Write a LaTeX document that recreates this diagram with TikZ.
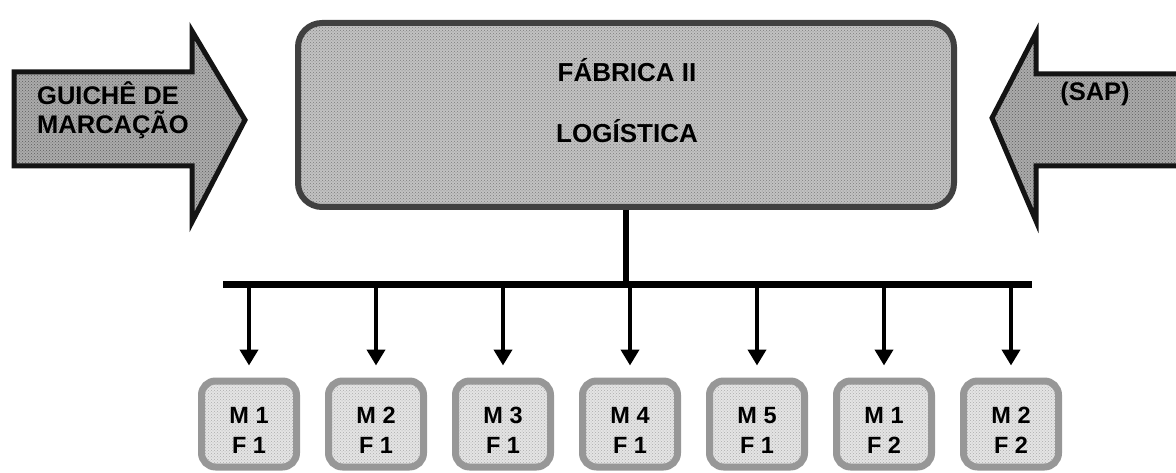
\documentclass[tikz,border=0pt]{standalone}
\usepackage{fontspec}
\setmainfont{Liberation Sans}
\usetikzlibrary{arrows.meta,patterns}

\definecolor{mainfill}{HTML}{C2C2C2}
\definecolor{maindot}{HTML}{7C7C7C}
\definecolor{arrowfill}{HTML}{ABABAB}
\definecolor{arrowdot}{HTML}{5E5E5E}
\definecolor{cellfill}{HTML}{E4E4E4}
\definecolor{celldot}{HTML}{ACACAC}
\definecolor{cellline}{HTML}{979797}

\begin{document}
\begin{tikzpicture}[x=1pt, y=-1pt, every node/.style={font=\bfseries},
    bigarrow/.style={draw=black!92, line width=5pt, preaction={fill=arrowfill},
        pattern=crosshatch dots, pattern color=arrowdot, line join=miter},
    mainbox/.style={draw=black!75, line width=6pt, preaction={fill=mainfill},
        pattern=crosshatch dots, pattern color=maindot, rounded corners=24pt,
        minimum width=656pt, minimum height=184pt},
    cellbox/.style={draw=cellline, line width=7pt, preaction={fill=cellfill},
        pattern=crosshatch dots, pattern color=celldot, rounded corners=14pt,
        minimum width=95pt, minimum height=86pt, align=center, inner sep=0pt,
        font=\bfseries\fontsize{23.5}{30}\selectfont},
    bus/.style={line width=7pt},
    feed/.style={line width=4.5pt, -{Triangle[width=18pt,length=16pt]}, shorten >=12pt}]
    \useasboundingbox (0,0) rectangle (1176,473);

    % entradas
    \draw[bigarrow] (14,72) -- (192,72) -- (192,31) -- (245,120) -- (192,222)
        -- (192,166) -- (14,166) -- cycle;
    \node[anchor=west, align=left, inner sep=0pt, font=\bfseries\fontsize{25.5}{29}\selectfont]
        (guiche) at (37,110) {GUICHÊ DE\\MARCAÇÃO};
    \draw[bigarrow] (1200,74) -- (1036,74) -- (1036,33) -- (992,118) -- (1036,221)
        -- (1036,166) -- (1200,166) -- cycle;
    \node[font=\bfseries\fontsize{25.5}{29}\selectfont] (sap) at (1095,94) {(SAP)};

    % fabrica
    \node[mainbox] (fab) at (626,115) {};
    \node[anchor=base, font=\bfseries\fontsize{26}{30}\selectfont] (fabt) at (627,82) {FÁBRICA II};
    \node[anchor=base, font=\bfseries\fontsize{26}{30}\selectfont] (logt) at (627,143) {LOGÍSTICA};

    % distribuicao
    \coordinate (bl) at (223,285);
    \coordinate (br) at (1032,285);
    \draw[bus] (bl) -- (br);
    \draw[line width=6pt] (fab.south) -- (fab.south |- bl);

    \foreach \m/\f [count=\i] in {1/1, 2/1, 3/1, 4/1, 5/1, 1/2, 2/2} {
        \node[cellbox] (c\i) at ({249+127*(\i-1)},424) {\rule{0pt}{28pt}M \m\\F \f};
        \draw[feed] (c\i.north |- bl) -- (c\i.north);
    }
\end{tikzpicture}
\end{document}
